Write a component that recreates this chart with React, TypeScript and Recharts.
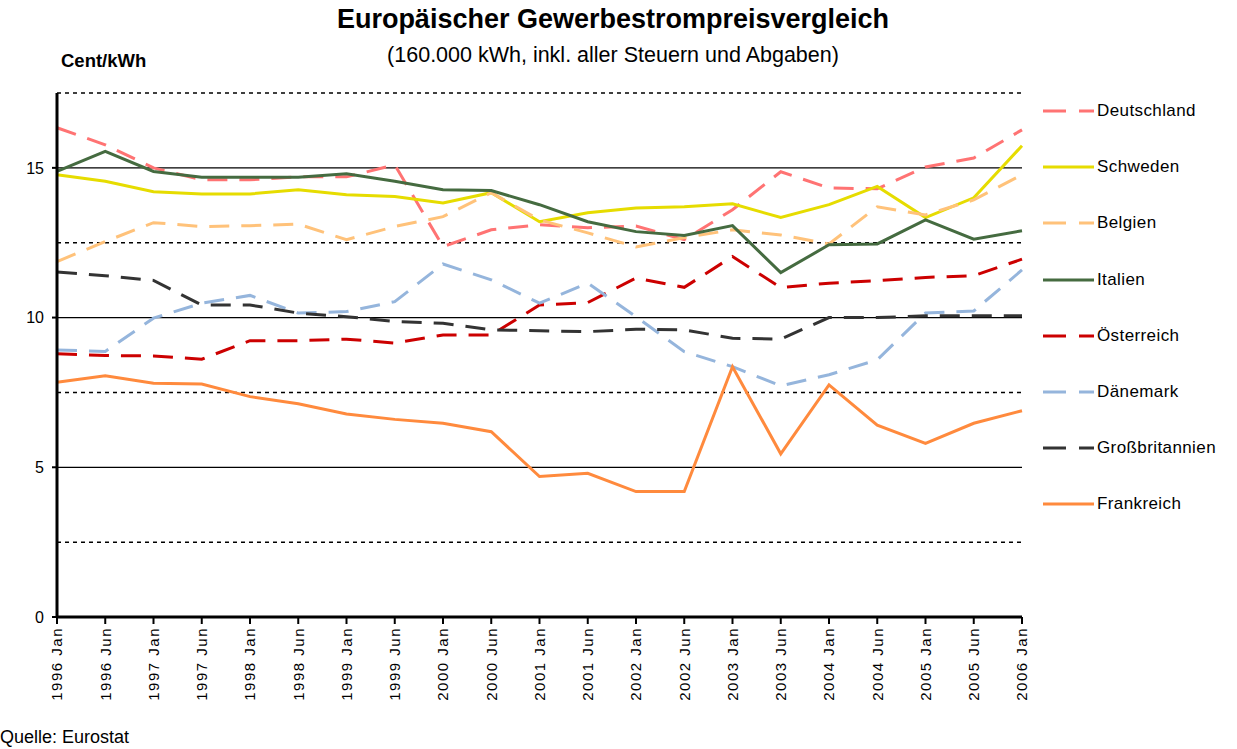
import { CartesianGrid, Line, LineChart, ReferenceLine, XAxis, YAxis } from "recharts";

const categories = [
  "1996 Jan", "1996 Jun", "1997 Jan", "1997 Jun", "1998 Jan", "1998 Jun", "1999 Jan",
  "1999 Jun", "2000 Jan", "2000 Jun", "2001 Jan", "2001 Jun", "2002 Jan", "2002 Jun",
  "2003 Jan", "2003 Jun", "2004 Jan", "2004 Jun", "2005 Jan", "2005 Jun", "2006 Jan",
];

const deutschland = [16.34, 15.77, 15.0, 14.6, 14.6, 14.7, 14.7, 15.1, 12.37, 12.93, 13.1, 13.0, 13.06, 12.6, 13.6, 14.87, 14.33, 14.3, 15.03, 15.33, 16.27];
const schweden = [14.77, 14.55, 14.2, 14.13, 14.13, 14.27, 14.1, 14.04, 13.83, 14.17, 13.2, 13.5, 13.66, 13.7, 13.8, 13.34, 13.77, 14.38, 13.34, 14.0, 15.74];
const belgien = [11.87, 12.54, 13.17, 13.04, 13.07, 13.12, 12.6, 13.04, 13.37, 14.17, 13.26, 12.83, 12.36, 12.67, 12.93, 12.76, 12.46, 13.7, 13.43, 13.93, 14.77];
const italien = [14.88, 15.55, 14.88, 14.69, 14.69, 14.69, 14.8, 14.55, 14.27, 14.24, 13.77, 13.2, 12.87, 12.74, 13.07, 11.5, 12.43, 12.46, 13.26, 12.62, 12.9];
const oesterreich = [8.79, 8.73, 8.72, 8.61, 9.23, 9.23, 9.28, 9.15, 9.42, 9.42, 10.42, 10.5, 11.32, 11.01, 12.04, 11.0, 11.15, 11.23, 11.34, 11.4, 11.95];
const daenemark = [8.92, 8.87, 9.98, 10.48, 10.74, 10.15, 10.2, 10.53, 11.79, 11.26, 10.48, 11.15, 10.03, 8.86, 8.36, 7.72, 8.09, 8.59, 10.15, 10.22, 11.59];
const grossbritannien = [11.52, 11.4, 11.24, 10.42, 10.42, 10.15, 10.03, 9.87, 9.81, 9.59, 9.56, 9.53, 9.61, 9.59, 9.31, 9.28, 10.0, 10.0, 10.06, 10.06, 10.06];
const frankreich = [7.84, 8.06, 7.81, 7.78, 7.36, 7.12, 6.78, 6.6, 6.47, 6.19, 4.69, 4.8, 4.19, 4.19, 8.36, 5.45, 7.75, 6.41, 5.8, 6.47, 6.89];

const yTicks = [0, 5, 10, 15];
const solidLines = [5, 10, 15];
const dashedLines = [2.5, 7.5, 12.5, 17.5];

const series = [
  { name: "Deutschland", values: deutschland, color: "#ff7373", dashed: true },
  { name: "Schweden", values: schweden, color: "#e6dc00", dashed: false },
  { name: "Belgien", values: belgien, color: "#ffc27a", dashed: true },
  { name: "Italien", values: italien, color: "#456b40", dashed: false },
  { name: "Österreich", values: oesterreich, color: "#cc0000", dashed: true },
  { name: "Dänemark", values: daenemark, color: "#95b5dc", dashed: true },
  { name: "Großbritannien", values: grossbritannien, color: "#333333", dashed: true },
  { name: "Frankreich", values: frankreich, color: "#ff8a3d", dashed: false },
];

const data = categories.map((label, i) => {
  const row: Record<string, string | number> = { label };
  series.forEach((s) => (row[s.name] = s.values[i]));
  return row;
});

const font = "Arial, 'Liberation Sans', sans-serif";

function XTick({ x, y, payload }: any) {
  return (
    <g>
      <line x1={x} x2={x} y1={y - 8} y2={y - 1} stroke="#000" strokeWidth={2} />
      <text
        transform={`translate(${x},${y + 2}) rotate(-90)`}
        textAnchor="end"
        dy="0.36em"
        fontSize={15}
        letterSpacing={1.5}
        fill="#000"
        fontFamily={font}
      >
        {payload.value}
      </text>
    </g>
  );
}

function LegendBox() {
  return (
    <div style={{ position: "absolute", left: 1040, top: 0 }}>
      {series.map((s, i) => (
        <div key={s.name} style={{ position: "absolute", top: 111 + i * 56.2 - 12, left: 0, height: 24, display: "flex", alignItems: "center", whiteSpace: "nowrap" }}>
          <svg width={56} height={10}>
            <line x1={3} x2={54} y1={5} y2={5} stroke={s.color} strokeWidth={3} strokeDasharray={s.dashed ? "23 13" : undefined} />
          </svg>
          <span style={{ fontFamily: font, fontSize: 17, letterSpacing: 0.4, color: "#000", marginLeft: 1 }}>{s.name}</span>
        </div>
      ))}
    </div>
  );
}

export default function App() {
  return (
    <div style={{ position: "absolute", left: 0, top: 0, width: 1237, height: 749, background: "#fff", fontFamily: font }}>
      <div style={{ position: "absolute", top: 4, left: 0, width: 1226, textAlign: "center", fontSize: 27, fontWeight: "bold" }}>
        Europäischer Gewerbestrompreisvergleich
      </div>
      <div style={{ position: "absolute", top: 43, left: 0, width: 1226, textAlign: "center", fontSize: 21.5 }}>
        (160.000 kWh, inkl. aller Steuern und Abgaben)
      </div>
      <div style={{ position: "absolute", top: 50, left: 61, fontSize: 18.5, fontWeight: "bold" }}>Cent/kWh</div>
      <LineChart width={1237} height={749} data={data} margin={{ top: 93, right: 215, left: 0, bottom: 0 }} style={{ position: "absolute", left: 0, top: 0 }}>
        <CartesianGrid horizontal={false} vertical={false} />
        {dashedLines.map((v) => (
          <ReferenceLine key={"d" + v} y={v} stroke="#000" strokeWidth={1.5} strokeDasharray="4 4" />
        ))}
        {solidLines.map((v) => (
          <ReferenceLine key={"s" + v} y={v} stroke="#000" strokeWidth={1.2} />
        ))}
        <XAxis
          dataKey="label"
          height={132}
          interval={0}
          tickLine={false}
          axisLine={{ stroke: "#000", strokeWidth: 3 }}
          tick={<XTick />}
          tickSize={0}
          tickMargin={8}
        />
        <YAxis
          width={57}
          domain={[0, 17.5]}
          ticks={yTicks}
          interval={0}
          axisLine={{ stroke: "#000", strokeWidth: 3 }}
          tickLine={{ stroke: "#000", strokeWidth: 2 }}
          tickSize={5}
          tickMargin={8}
          tick={{ fill: "#000", fontSize: 16, fontFamily: font }}
        />
        {series.map((s) => (
          <Line
            key={s.name}
            type="linear"
            dataKey={s.name}
            stroke={s.color}
            strokeWidth={3}
            strokeDasharray={s.dashed ? "20 12" : undefined}
            dot={false}
            activeDot={false}
            isAnimationActive={false}
          />
        ))}
      </LineChart>
      <LegendBox />
      <div style={{ position: "absolute", left: 0, top: 727, fontSize: 18 }}>Quelle: Eurostat</div>
    </div>
  );
}
